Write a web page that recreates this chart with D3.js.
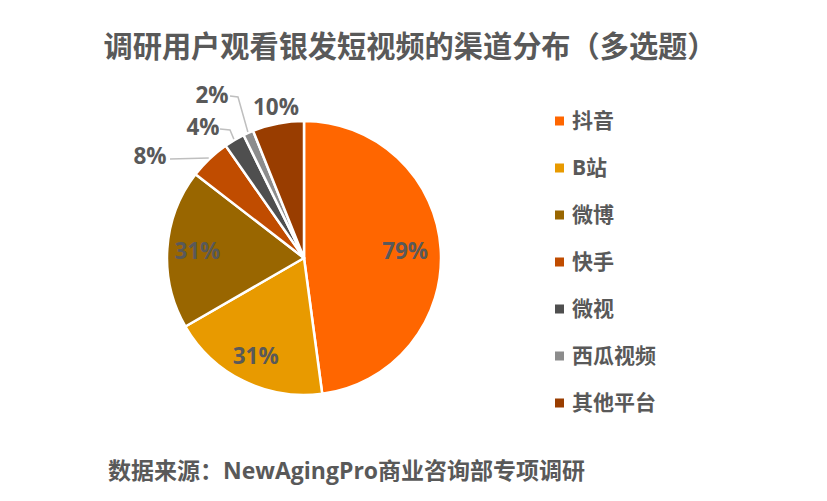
<!DOCTYPE html>
<html><head><meta charset="utf-8">
<script src="https://cdn.jsdelivr.net/npm/d3@7"></script>
<style>body{margin:0;background:#fff}svg{display:block}</style>
</head><body><svg id="c" width="827" height="501"></svg>
<script>
const categories = ["抖音","B站","微博","快手","微视","西瓜视频","其他平台"];
const values = [79, 31, 31, 8, 4, 2, 10];
const colors = ["#FF6600","#E89A00","#996600","#C04C00","#4F4F4F","#8C8C8C","#993D00"];
const titleText = "调研用户观看银发短视频的渠道分布（多选题）";
const sourceText = "数据来源：NewAgingPro商业咨询部专项调研";

const W = 827, H = 501;
const svg = d3.select("#c");
const font = "'Open Sans','Noto Sans CJK SC',sans-serif";
const txt = "#595959";

svg.append("text").attr("x", 410).attr("y", 57).attr("text-anchor","middle")
  .attr("font-family", font).attr("font-weight","bold").attr("font-size", 29.2)
  .attr("fill", txt).text(titleText);
svg.append("text").attr("x", 108).attr("y", 479)
  .attr("font-family", font).attr("font-weight","bold").attr("font-size", 23)
  .attr("fill", txt).text(sourceText);

const cx = 304, cy = 258, R = 137;
const data = categories.map((c,i)=>({name:c, value:values[i], color:colors[i]}));
const pie = d3.pie().value(d=>d.value).sort(null);
const arcs = pie(data);
const arc = d3.arc().innerRadius(0).outerRadius(R);
const g = svg.append("g").attr("transform", `translate(${cx},${cy})`);
g.selectAll("path").data(arcs).join("path")
  .attr("d", arc).attr("fill", d=>d.data.color)
  .attr("stroke","#fff").attr("stroke-width",2.5).attr("stroke-linejoin","round");

const pct = v => v + "%";
const polar = (a, r) => [r*Math.sin(a), -r*Math.cos(a)];
const mid = d => (d.startAngle + d.endAngle)/2;

// label layout: inside labels at radius factor; outside labels with leader lines
const inside = {0: 0.74, 1: 0.8, 2: 0.78};
const outside = {
  3: {label:[-154,-102], pts:[[-94,-104],[-134,-99]]},
  4: {label:[-101,-131], pts:[[-68,-123],[-74,-128],[-84,-129]]},
  5: {label:[-92,-163], pts:[[-56,-126],[-66,-161],[-74,-162]]},
  6: {label:[-28,-151], pts:null}
};

arcs.forEach((d,i)=>{
  let x, y;
  if (inside[i] !== undefined) {
    [x, y] = polar(mid(d), R*inside[i]);
  } else {
    const o = outside[i];
    [x, y] = o.label;
    if (o.pts) {
      const p0 = polar(mid(d), R+1);
      const pts = [p0, ...o.pts.slice(1)];
      g.append("polyline").attr("points", pts.map(p=>p.join(",")).join(" "))
        .attr("fill","none").attr("stroke","#BFBFBF").attr("stroke-width",1.5);
    }
  }
  g.append("text").attr("x", x).attr("y", y).attr("dy","0.35em")
    .attr("text-anchor","middle").attr("font-family", font)
    .attr("font-weight","bold").attr("font-size", 22.5).attr("fill", txt)
    .text(pct(d.data.value));
});

// legend
const ly = d3.scalePoint().domain(categories).range([121, 403]);
const lg = svg.append("g");
categories.forEach((c,i)=>{
  lg.append("rect").attr("x",555).attr("y",ly(c)-4.5).attr("width",9).attr("height",9).attr("fill",colors[i]);
  lg.append("text").attr("x",572).attr("y",ly(c)).attr("dy","0.35em")
    .attr("font-family",font).attr("font-weight","bold").attr("font-size",21)
    .attr("fill",txt).text(c);
});
</script></body></html>
